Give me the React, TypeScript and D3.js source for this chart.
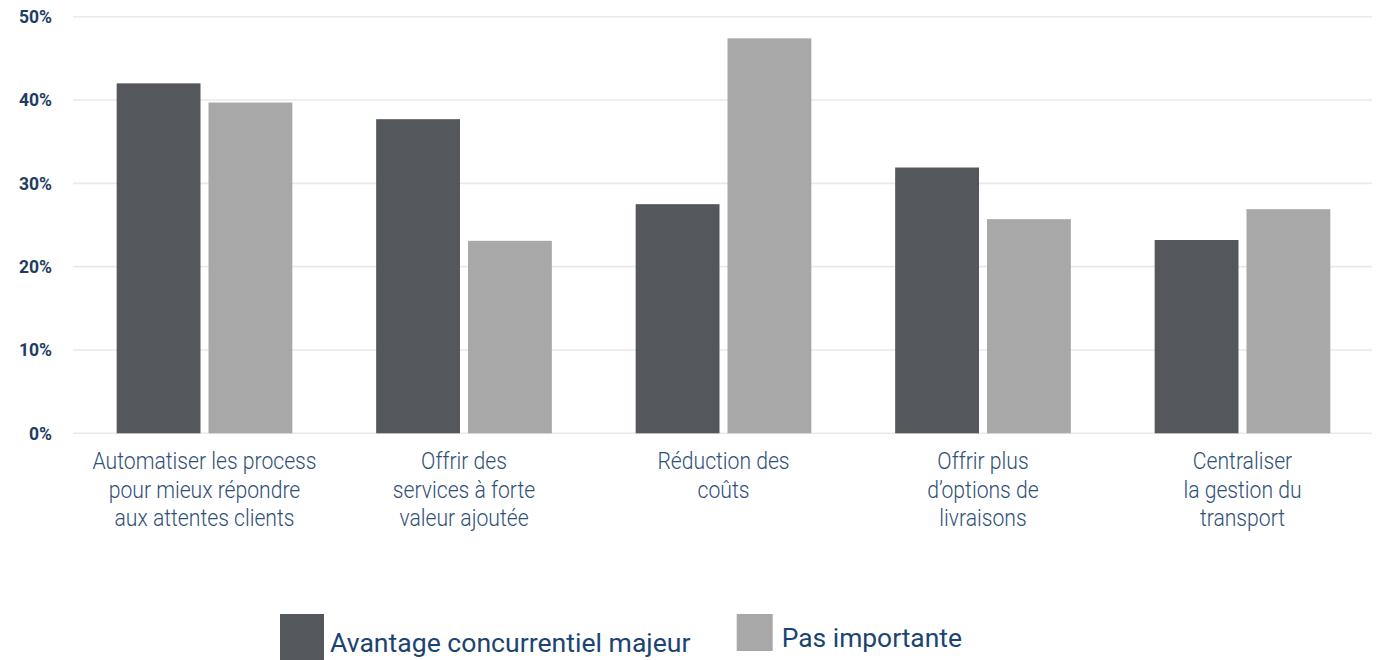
import React from "react";
import * as d3 from "d3";

// Category labels, one array of lines per group
const categories = [
  ["Automatiser les process", "pour mieux répondre", "aux attentes clients"],
  ["Offrir des", "services à forte", "valeur ajoutée"],
  ["Réduction des", "coûts"],
  ["Offrir plus", "d’options de", "livraisons"],
  ["Centraliser", "la gestion du", "transport"],
];

// Series values (%)
const avantage = [42.0, 37.7, 27.5, 31.9, 23.2];
const pasImportante = [39.7, 23.1, 47.4, 25.7, 26.9];

const seriesNames = ["Avantage concurrentiel majeur", "Pas importante"];
const yTicks = [0, 10, 20, 30, 40, 50];

const width = 1376;
const height = 660;
const colors = ["#54575b", "#a8a8a8"];

const App = () => {
  const series = [avantage, pasImportante];

  // Scales
  const x0 = d3
    .scaleBand<number>()
    .domain(d3.range(categories.length))
    .range([74.75, 1372.25])
    .paddingInner(0.323)
    .paddingOuter(0.1615);

  const x1 = d3
    .scaleBand<number>()
    .domain([0, 1])
    .range([0, x0.bandwidth()])
    .paddingInner(0.087);

  const y = d3.scaleLinear().domain([0, 50]).range([433.3, 16.7]);

  return (
    <div style={{ position: "absolute", left: 0, top: 0 }}>
      <svg width={width} height={height} style={{ display: "block" }}>
        <rect width={width} height={height} fill="#ffffff" />

        {/* Grid lines */}
        {yTicks.map((t) => (
          <line
            key={t}
            x1={73}
            x2={1372}
            y1={y(t)}
            y2={y(t)}
            stroke="#e9e9e9"
            strokeWidth={1.6}
          />
        ))}

        {/* Y labels */}
        {yTicks.map((t) => (
          <text
            key={t}
            x={52}
            y={y(t)}
            dy="0.36em"
            textAnchor="end"
            fontFamily="Roboto, sans-serif"
            fontWeight={700}
            fontSize={17.5}
            fill="#1f3d63"
          >
            {t}%
          </text>
        ))}

        {/* Bars */}
        {categories.map((_, i) => (
          <g key={i} transform={`translate(${x0(i)},0)`}>
            {series.map((s, k) => (
              <rect
                key={k}
                x={x1(k)}
                y={y(s[i])}
                width={x1.bandwidth()}
                height={y(0) - y(s[i])}
                fill={colors[k]}
              />
            ))}
          </g>
        ))}

        {/* Category labels */}
        {categories.map((lines, i) => (
          <g
            key={i}
            transform={`translate(${(x0(i) as number) + x0.bandwidth() / 2},469.3) scale(0.9,1)`}
          >
            {lines.map((line, j) => (
              <text
                key={j}
                x={0}
                y={j * 28.3}
                textAnchor="middle"
                fontFamily="Roboto, sans-serif"
                fontWeight={300}
                fontSize={23.5}
                fill="#2f5078"
              >
                {line}
              </text>
            ))}
          </g>
        ))}

        {/* Legend */}
        <rect x={280} y={614} width={44} height={46} fill={colors[0]} />
        <text
          x={330}
          y={651.7}
          fontFamily="Roboto, sans-serif"
          fontSize={26.6}
          fill="#1c4472"
        >
          {seriesNames[0]}
        </text>
        <rect x={736.7} y={614} width={36} height={37} fill={colors[1]} />
        <text
          x={781.7}
          y={646.7}
          fontFamily="Roboto, sans-serif"
          fontSize={26.4}
          fill="#1c4472"
        >
          {seriesNames[1]}
        </text>
      </svg>
    </div>
  );
};

export default App;
